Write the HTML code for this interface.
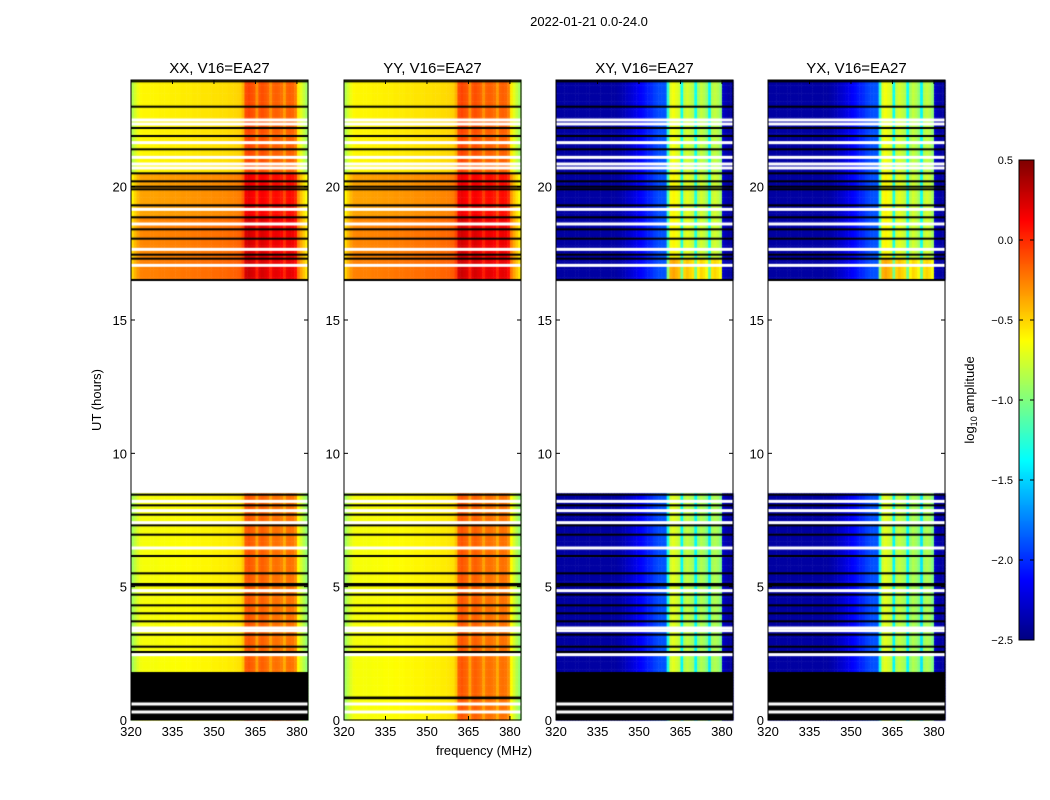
<!DOCTYPE html>
<html><head><meta charset="utf-8"><style>
body{margin:0;background:#fff;width:1050px;height:800px;overflow:hidden;font-family:"Liberation Sans",sans-serif}
#root{position:relative;width:1050px;height:800px}
canvas{position:absolute;left:0;top:0}
svg{position:absolute;left:0;top:0}
text{font-family:"Liberation Sans",sans-serif;fill:#000}
</style></head><body>
<div id="root">
<canvas id="cv" width="1050" height="800"></canvas>
<svg id="sv" width="1050" height="800"></svg>
</div>
<script>
// ---- data ----
const panelTitles = ["XX, V16=EA27","YY, V16=EA27","XY, V16=EA27","YX, V16=EA27"];
const freqTicks = [320,335,350,365,380];
const timeTicks = [0,5,10,15,20];
const cbarTicks = [-2.5,-2.0,-1.5,-1.0,-0.5,0.0,0.5];
// 1 MHz channels 320..384
const parallelSpectrum = [-0.9,-0.8,-0.72,-0.66,-0.65,-0.65,-0.65,-0.65,-0.65,-0.65,-0.64,-0.64,-0.64,-0.64,-0.63,-0.63,-0.63,-0.63,-0.62,-0.62,-0.62,-0.62,-0.61,-0.61,-0.61,-0.6,-0.6,-0.6,-0.6,-0.59,-0.59,-0.59,-0.58,-0.58,-0.58,-0.57,-0.57,-0.56,-0.55,-0.54,-0.45,-0.15,-0.12,-0.15,-0.18,-0.35,-0.18,-0.15,-0.18,-0.22,-0.35,-0.22,-0.2,-0.22,-0.25,-0.38,-0.22,-0.2,-0.22,-0.3,-0.62,-0.75,-0.85,-0.95];
const crossSpectrum = [-2.4,-2.4,-2.4,-2.4,-2.4,-2.4,-2.4,-2.4,-2.4,-2.4,-2.4,-2.4,-2.4,-2.4,-2.4,-2.4,-2.4,-2.4,-2.4,-2.4,-2.4,-2.4,-2.38,-2.36,-2.34,-2.3,-2.27,-2.24,-2.2,-2.17,-2.13,-2.1,-2.06,-2.03,-2.0,-1.95,-1.92,-1.9,-1.88,-1.88,-1.3,-0.75,-0.7,-0.75,-0.8,-1.4,-0.85,-0.8,-0.85,-0.9,-1.4,-0.95,-0.85,-0.9,-1.0,-1.45,-0.9,-0.85,-0.9,-1.0,-2.3,-2.35,-2.4,-2.4];
// time bands: [startHour, endHour, offset]
const parallelBands = [[0,1.8,0],[1.8,8.5,0.0],[16.5,17.3,0.4],[17.3,18.9,0.38],[18.9,20.5,0.3],[20.5,24,0.05]];
const crossBands = [[0,1.8,0],[1.8,8.5,0],[16.5,17.3,0.35],[17.3,20.5,0.1],[20.5,24,0.05]];
const blackSpans = [
 [[0,1.8]],
 [[0.78,0.88]],
 [[0,1.8]],
 [[0,1.8]]
];
const blackLines = [23.95,23.0,22.2,21.9,21.4,20.5,20.2,20.0,19.9,19.3,18.85,18.4,18.05,17.45,17.3,16.5,8.45,8.05,7.7,7.3,6.95,6.15,5.5,5.1,5.05,4.7,4.3,4.0,3.7,3.2,2.75,2.55];
const whiteLines = [22.5,22.35,21.65,21.1,20.85,20.7,19.15,18.6,17.65,17.05,8.2,7.85,7.4,6.45,4.85,3.45,3.35,2.45,0.6,0.3];
// ---- geometry ----
const panelX = [131,344,556,768], PW = 177, PT = 80, PB = 720;
const fMin = 320, fMax = 384, tMin = 0, tMax = 24;
const xs = (p,f)=>panelX[p] + (f-fMin)/(fMax-fMin)*PW;
const ys = t=>PB - (t-tMin)/(tMax-tMin)*(PB-PT);
function jet(v){
  let x=(v+2.5)/3; x=Math.max(0,Math.min(1,x));
  const c=q=>Math.max(0,Math.min(1,q));
  const r=c(1.5-Math.abs(4*x-3)), g=c(1.5-Math.abs(4*x-2)), b=c(1.5-Math.abs(4*x-1));
  return `rgb(${Math.round(r*255)},${Math.round(g*255)},${Math.round(b*255)})`;
}
const ctx=document.getElementById('cv').getContext('2d');
ctx.fillStyle='#fff';ctx.fillRect(0,0,1050,800);
const dt=0.1;
for(let p=0;p<4;p++){
  const cross = p>=2;
  const spec = cross?crossSpectrum:parallelSpectrum;
  const bands = cross?crossBands:parallelBands;
  for(const b of bands){
    for(let t=b[0];t<b[1]-1e-9;t+=dt){
      const t1=Math.min(t+dt,b[1]);
      for(let i=0;i<spec.length;i++){
        const off = (cross && spec[i]<-1.6) ? 0 : b[2];
        ctx.fillStyle=jet(spec[i]+off);
        const x0=xs(p,fMin+i), x1=xs(p,fMin+i+1);
        ctx.fillRect(x0,ys(t1),x1-x0+0.5,ys(t)-ys(t1)+0.5);
      }
    }
  }
  ctx.fillStyle='#000';
  for(const s of blackSpans[p]) ctx.fillRect(panelX[p],ys(s[1]),PW,ys(s[0])-ys(s[1]));
  for(const l of blackLines) ctx.fillRect(panelX[p],ys(l)-1,PW,2);
  ctx.fillStyle='#fff';
  for(const l of whiteLines) ctx.fillRect(panelX[p],ys(l)-1.5,PW,3);
}
for(let y=160;y<640;y++){
  const v=0.5-(y-160)/480*3;
  ctx.fillStyle=jet(v);ctx.fillRect(1019,y,15,1);
}
// ---- svg overlay ----
const NS="http://www.w3.org/2000/svg", sv=document.getElementById('sv');
function el(tag,attrs,txt){const e=document.createElementNS(NS,tag);for(const k in attrs)e.setAttribute(k,attrs[k]);if(txt!==undefined)e.textContent=txt;sv.appendChild(e);return e;}
let e=el('text',{x:589,y:26,'text-anchor':'middle','font-size':13},'2022-01-21 0.0-24.0');


for(let p=0;p<4;p++){
  e=el('rect',{x:panelX[p],y:PT,width:PW,height:PB-PT,fill:'none',stroke:'#000','stroke-width':1});
  
  
  e=el('text',{x:panelX[p]+PW/2,y:73,'text-anchor':'middle','font-size':15},panelTitles[p]);
  
  
  for(const f of freqTicks){
    const x=xs(p,f);
    el('line',{x1:x,x2:x,y1:PB,y2:PB-4,stroke:'#000'});
    el('line',{x1:x,x2:x,y1:PT,y2:PT+4,stroke:'#000'});
    e=el('text',{x:x,y:PB+16,'text-anchor':'middle','font-size':13},String(f));
    
    
  }
  for(const t of timeTicks){
    const y=ys(t);
    el('line',{x1:panelX[p],x2:panelX[p]+4,y1:y,y2:y,stroke:'#000'});
    el('line',{x1:panelX[p]+PW,x2:panelX[p]+PW-4,y1:y,y2:y,stroke:'#000'});
    e=el('text',{x:panelX[p]-4,y:y+5,'text-anchor':'end','font-size':13},String(t));
    
    
  }
}
e=el('text',{x:484,y:755,'text-anchor':'middle','font-size':13},'frequency (MHz)');


e=el('text',{x:0,y:0,'text-anchor':'middle','font-size':13,transform:'translate(101,400) rotate(-90)'},'UT (hours)');


e=el('rect',{x:1019,y:160,width:15,height:480,fill:'none',stroke:'#000'});


for(const c of cbarTicks){
  const y=160+(0.5-c)/3*480;
  el('line',{x1:1019,x2:1023,y1:y,y2:y,stroke:'#000'});
  el('line',{x1:1034,x2:1030,y1:y,y2:y,stroke:'#000'});
  e=el('text',{x:1013,y:y+4,'text-anchor':'end','font-size':11},(c<0?'\u2212':'')+Math.abs(c).toFixed(1));
  
  
}
e=el('text',{x:0,y:0,'text-anchor':'middle','font-size':13,transform:'translate(974,400) rotate(-90)'});


e.innerHTML='log<tspan font-size="9" dy="3">10</tspan><tspan dy="-3"> amplitude</tspan>';
</script>
</body></html>
